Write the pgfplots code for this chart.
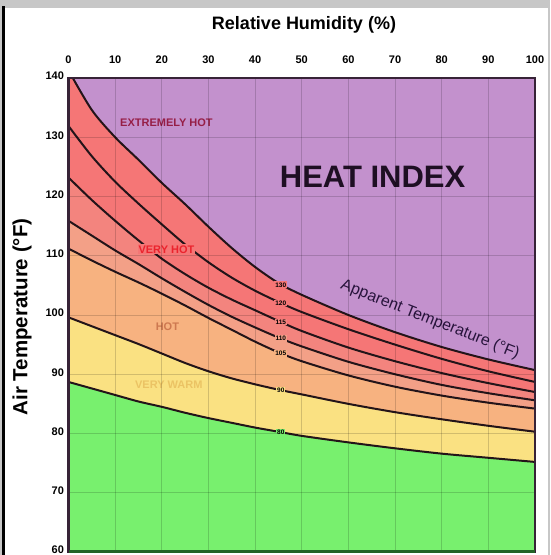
\documentclass[border=0pt]{standalone}
\usepackage{fontspec}
\setmainfont{Liberation Sans}
\usepackage{pgfplots}
\pgfplotsset{compat=1.18}
\usepackage{pgfplotstable}
\definecolor{purpleband}{RGB}{195,145,205}
\definecolor{redband}{RGB}{245,118,118}
\definecolor{redbandb}{RGB}{243,132,126}
\definecolor{salmonband}{RGB}{243,160,135}
\definecolor{orangeband}{RGB}{247,178,128}
\definecolor{yellowband}{RGB}{250,225,130}
\definecolor{greenband}{RGB}{120,240,110}
\definecolor{curvecol}{RGB}{35,20,25}
\definecolor{axisdark}{RGB}{55,35,55}
\definecolor{axisgreen}{RGB}{35,100,40}
\definecolor{xhot}{RGB}{150,30,70}
\definecolor{vhot}{RGB}{235,35,45}
\definecolor{hotc}{RGB}{205,120,80}
\definecolor{vwarm}{RGB}{235,195,100}
\pgfplotstableread{
rh A B C D E F G
0 141.3 131.9 123.2 115.9 111.2 99.6 88.7
5 134.6 126.8 119.4 113.4 109.2 98.1 87.6
10 130.0 122.5 115.9 110.9 107.3 96.6 86.5
15 126.2 118.8 112.6 108.6 105.5 95.1 85.4
20 122.3 115.3 109.5 106.2 103.6 93.5 84.5
25 118.7 111.9 106.9 103.9 101.6 91.9 83.5
30 114.9 108.9 104.6 101.7 99.5 90.5 82.6
35 111.3 106.3 102.6 99.7 97.5 89.3 81.8
40 108.1 104.1 100.8 97.9 95.5 88.3 81.0
45 105.4 102.2 99.0 96.2 93.7 87.4 80.3
50 103.4 100.5 97.3 94.7 92.2 86.6 79.6
60 100.0 97.6 94.5 92.1 89.8 85.0 78.5
70 97.1 95.0 92.2 90.0 87.9 83.6 77.5
80 94.6 92.6 90.2 88.2 86.4 82.4 76.6
90 92.5 90.5 88.5 86.8 85.2 81.3 75.9
100 90.7 88.7 87.0 85.6 84.2 80.3 75.2
}\hitable
\begin{document}
\begin{tikzpicture}[x=1pt,y=1pt]
\path[use as bounding box] (0,0) rectangle (550,555);
\fill[black!22] (0,0) rectangle (550,555);
\fill[white] (5,0) rectangle (548,547);
\draw[black, line width=2.5pt] (3.5,0) -- (3.5,549);
\begin{axis}[
  at={(68.5pt,3pt)}, anchor=south west,
  scale only axis, width=466.5pt, height=474pt,
  xmin=0, xmax=100, ymin=60, ymax=140,
  xtick={0,10,...,100}, ytick={60,70,...,140},
  xticklabel pos=upper,
  major tick length=0pt,
  grid=major,
  major grid style={black, opacity=0.16, line width=0.8pt},
  axis on top,
  axis line style={line width=2.5pt, color=axisdark},
  ticklabel style={font=\fontsize{11}{11}\selectfont\bfseries},
  /pgf/number format/assume math mode=true,
  xticklabel style={yshift=11pt},
  yticklabel style={xshift=-1pt, yshift=2pt},
  axis background/.style={fill=purpleband},
]
\addplot[fill=redband, draw=none] table[x=rh,y=A] {\hitable} \closedcycle;
\addplot[fill=redband, draw=none] table[x=rh,y=B] {\hitable} \closedcycle;
\addplot[fill=redbandb, draw=none] table[x=rh,y=C] {\hitable} \closedcycle;
\addplot[fill=salmonband, draw=none] table[x=rh,y=D] {\hitable} \closedcycle;
\addplot[fill=orangeband, draw=none] table[x=rh,y=E] {\hitable} \closedcycle;
\addplot[fill=yellowband, draw=none] table[x=rh,y=F] {\hitable} \closedcycle;
\addplot[fill=greenband, draw=none] table[x=rh,y=G] {\hitable} \closedcycle;
\foreach \c in {A,B,C,D,E,F,G}{
  \addplot[curvecol, line width=2pt, smooth, tension=0.5] table[x=rh,y=\c] {\hitable};
}
% curve labels
\node[fill=redband, inner sep=1pt, font=\fontsize{6.5}{6.5}\selectfont\bfseries] at (axis cs:45.5,105.1) {130};
\node[fill=redband, inner sep=1pt, font=\fontsize{6.5}{6.5}\selectfont\bfseries] at (axis cs:45.5,102.0) {120};
\node[fill=redbandb, inner sep=1pt, font=\fontsize{6.5}{6.5}\selectfont\bfseries] at (axis cs:45.5,98.8) {115};
\node[fill=salmonband, inner sep=1pt, font=\fontsize{6.5}{6.5}\selectfont\bfseries] at (axis cs:45.5,96.0) {110};
\node[fill=orangeband, inner sep=1pt, font=\fontsize{6.5}{6.5}\selectfont\bfseries] at (axis cs:45.5,93.5) {105};
\node[fill=yellowband, inner sep=1pt, font=\fontsize{6.5}{6.5}\selectfont\bfseries] at (axis cs:45.5,87.3) {90};
\node[fill=greenband, inner sep=1pt, font=\fontsize{6.5}{6.5}\selectfont\bfseries] at (axis cs:45.5,80.2) {80};
% band labels
\node[text=xhot, font=\fontsize{11}{11}\selectfont\bfseries] at (axis cs:21.0,132.4) {EXTREMELY HOT};
\node[fill=redband, inner sep=1pt, text=vhot, font=\fontsize{11}{11}\selectfont\bfseries] at (axis cs:21.0,111.1) {VERY HOT};
\node[text=hotc, font=\fontsize{11}{11}\selectfont\bfseries] at (axis cs:21.2,98.1) {HOT};
\node[text=vwarm, font=\fontsize{11}{11}\selectfont\bfseries] at (axis cs:21.5,88.2) {VERY WARM};
\node[text={rgb,255:red,30;green,15;blue,35}, font=\fontsize{31}{31}\selectfont\bfseries] at (axis cs:65.2,123.3) {HEAT INDEX};
\node[rotate=-21.6, text={rgb,255:red,40;green,20;blue,60}, font=\fontsize{16}{16}\selectfont] at (axis cs:77.5,99.2) {Apparent Temperature (°F)};
\end{axis}
\draw[axisgreen, line width=3pt] (68.5,3) -- (535,3);
\node[font=\fontsize{18}{18}\selectfont\bfseries] at (304,530) {Relative Humidity (\%)};
\node[rotate=90, font=\fontsize{20.5}{20.5}\selectfont\bfseries] at (22,238) {Air Temperature (°F)};
\end{tikzpicture}
\end{document}
